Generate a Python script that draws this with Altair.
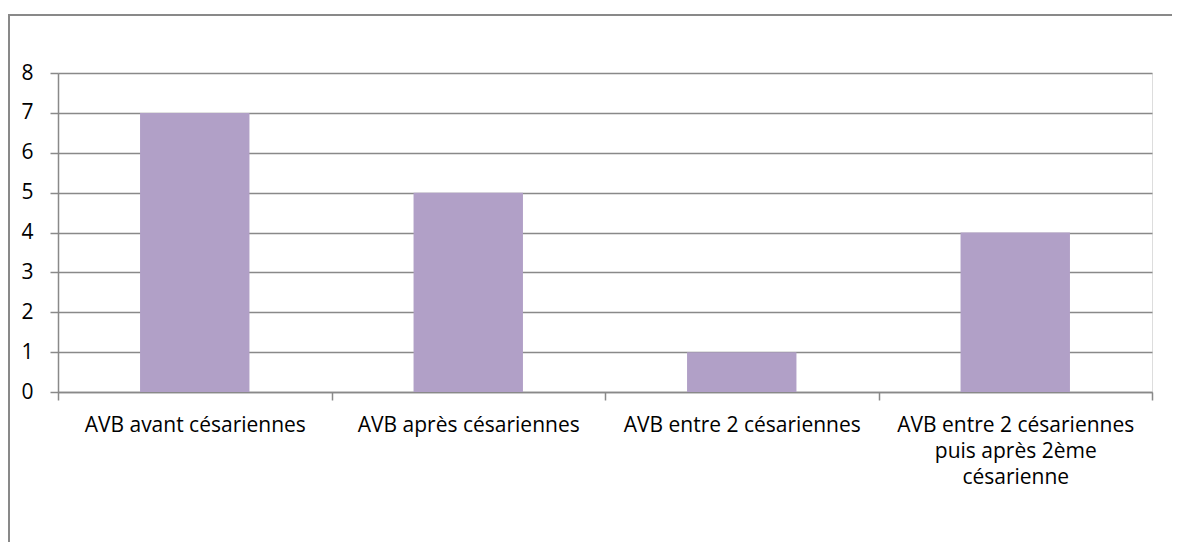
import altair as alt
import pandas as pd

categories = [
    "AVB avant césariennes",
    "AVB après césariennes",
    "AVB entre 2 césariennes",
    "AVB entre 2 césariennes|puis après 2ème|césarienne",
]
values = [7, 5, 1, 4]

df = pd.DataFrame({"cat": categories, "val": values})

W, H = 1094, 319
GRAY = "#898989"
FONT = "Open Sans"
FS = 21
RIGHT_PAD = 20

x = alt.X(
    "cat:N",
    sort=categories,
    title=None,
    scale=alt.Scale(paddingInner=0, paddingOuter=0),
    axis=alt.Axis(
        labelAngle=0,
        labelExpr="split(datum.label, '|')",
        labelFontSize=FS,
        labelColor="#000000",
        labelFont=FONT,
        labelPadding=31,
        labelLineHeight=26,
        labelBaseline="alphabetic",
        tickBand="extent",
        tickSize=8,
        tickColor=GRAY,
        tickWidth=1.5,
        domainColor=GRAY,
        domainWidth=1.5,
        grid=False,
        labelLimit=400,
    ),
)

bars = alt.Chart(df).mark_bar(
    color="#B1A0C7", width=alt.RelativeBandSize(0.4)
).encode(
    x=x,
    y=alt.Y(
        "val:Q",
        title=None,
        scale=alt.Scale(domain=[0, 8], nice=False),
        axis=alt.Axis(
            values=list(range(0, 9)),
            labelFontSize=FS,
            labelColor="#000000",
            labelFont=FONT,
            labelPadding=17,
            tickSize=8,
            tickColor=GRAY,
            tickWidth=1.5,
            gridColor=GRAY,
            gridWidth=1.5,
            domainColor=GRAY,
            domainWidth=1.5,
        ),
    ),
)

# outer chart frame (left and top edges; the others fall outside the picture)
frame_left = alt.Chart(df).mark_rule(stroke=GRAY, strokeWidth=2).encode(
    x=alt.value(-49),
    y=alt.value(-58),
    y2=alt.value(H + 150),
)
frame_top = alt.Chart(df).mark_rule(stroke=GRAY, strokeWidth=2).encode(
    x=alt.value(-50),
    x2=alt.value(W + RIGHT_PAD),
    y=alt.value(-58),
)

chart = alt.layer(bars, frame_left, frame_top).properties(
    width=W,
    height=H,
    padding={"left": 50, "top": 65, "right": RIGHT_PAD, "bottom": 150},
    autosize=alt.AutoSizeParams(type="none"),
).configure_view(stroke=None).configure(background="white")

chart.save("out.html", embed_options={"renderer": "svg", "actions": False})
